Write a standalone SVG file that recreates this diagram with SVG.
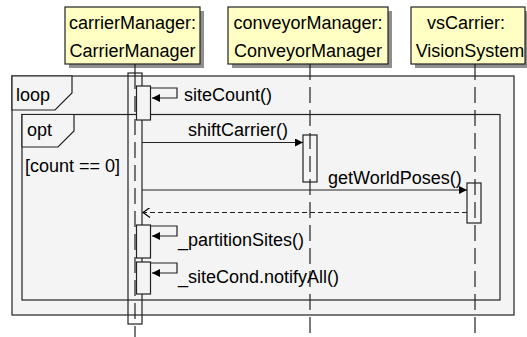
<svg xmlns="http://www.w3.org/2000/svg" width="527" height="337" viewBox="0 0 527 337">
  <style>
    text { font-family: "Liberation Sans", Arial, sans-serif; font-size: 18px; fill: #000; }
    .frame { fill: #f4f4f4; stroke: #222; stroke-width: 1.2; }
    .tab { fill: #f4f4f4; stroke: #222; stroke-width: 1.2; }
    .head { fill: #ffffc4; stroke: #222; stroke-width: 1.2; }
    .shadow { fill: #8f8f8f; }
    .life { stroke: #222; stroke-width: 1.2; stroke-dasharray: 16 7; fill: none; }
    .act { fill: none; stroke: #222; stroke-width: 1.2; }
    .actf { fill: #f4f4f4; stroke: #222; stroke-width: 1.2; }
    .msg { stroke: #222; stroke-width: 1.2; fill: none; }
    .ret { stroke: #222; stroke-width: 1.2; fill: none; stroke-dasharray: 5 3; }
  </style>
  <defs>
    <marker id="filled" markerWidth="9" markerHeight="8" refX="8" refY="4" orient="auto" markerUnits="userSpaceOnUse">
      <path d="M0,0 L8,4 L0,8 Z" fill="#000"/>
    </marker>
    <marker id="open" markerWidth="10" markerHeight="10" refX="8" refY="5" orient="auto" markerUnits="userSpaceOnUse">
      <path d="M1,0 L8,5 L1,10" fill="none" stroke="#000" stroke-width="1.2"/>
    </marker>
  </defs>

  <!-- combined fragments -->
  <g id="loop">
    <rect class="frame" x="12" y="76" width="502" height="239"/>
    <path class="tab" d="M12,76 H72 V93 L55,110 H12 Z"/>
    <text x="16" y="101">loop</text>
  </g>
  <g id="opt">
    <rect class="frame" x="22" y="114.5" width="478" height="185.5"/>
    <path class="tab" d="M22,114.5 H74 V131 L58,147 H22 Z"/>
    <text x="27" y="136">opt</text>
    <text x="25" y="172">[count == 0]</text>
  </g>

  <!-- lifeline heads -->
  <g id="carrierManager">
    <rect class="shadow" x="69" y="11" width="135" height="57"/>
    <rect class="head" x="65" y="7" width="135" height="57"/>
    <text x="132.5" y="29" text-anchor="middle">carrierManager:</text>
    <text x="132.5" y="57" text-anchor="middle">CarrierManager</text>
  </g>
  <g id="conveyorManager">
    <rect class="shadow" x="232" y="11" width="160" height="57"/>
    <rect class="head" x="228" y="7" width="160" height="57"/>
    <text x="308" y="29" text-anchor="middle">conveyorManager:</text>
    <text x="308" y="57" text-anchor="middle">ConveyorManager</text>
  </g>
  <g id="vsCarrier">
    <rect class="shadow" x="415" y="11" width="114" height="57"/>
    <rect class="head" x="411" y="7" width="114" height="57"/>
    <text x="466" y="29" text-anchor="middle">vsCarrier:</text>
    <text x="470" y="57" text-anchor="middle">VisionSystem</text>
  </g>

  <!-- activations -->
  <g id="activations">
    <rect class="act" x="128" y="73" width="14" height="251"/>
    <rect class="actf" x="136.5" y="86" width="14" height="34"/>
    <rect class="actf" x="136.5" y="225" width="14" height="33"/>
    <rect class="actf" x="136.5" y="262" width="14" height="32"/>
    <rect class="act" x="303" y="135" width="14" height="47"/>
    <rect class="act" x="467" y="183" width="14" height="40"/>
  </g>

  <!-- lifelines -->
  <g id="lifelines">
    <line x1="135" y1="64" x2="135" y2="73" stroke="#222" stroke-width="1.2"/>
    <line class="life" x1="135" y1="73" x2="135" y2="337"/>
    <line class="life" x1="310" y1="64" x2="310" y2="337"/>
    <line class="life" x1="475" y1="64" x2="475" y2="337"/>
  </g>

  <!-- messages -->
  <g id="connectors">
    <path class="msg" d="M150.5,88 H177 V98 H152" marker-end="url(#filled)"/>
    <text x="184" y="101">siteCount()</text>

    <line class="msg" x1="142" y1="142.5" x2="303" y2="142.5" marker-end="url(#filled)"/>
    <text x="188" y="136">shiftCarrier()</text>

    <line class="msg" x1="142" y1="190" x2="467" y2="190" marker-end="url(#filled)"/>
    <text x="328" y="184">getWorldPoses()</text>

    <line class="ret" x1="467" y1="212.5" x2="143" y2="212.5" marker-end="url(#open)"/>

    <path class="msg" d="M150.5,226 H177 V236 H152" marker-end="url(#filled)"/>
    <text x="178" y="246">_partitionSites()</text>

    <path class="msg" d="M150.5,263 H177 V273 H152" marker-end="url(#filled)"/>
    <text x="178" y="283">_siteCond.notifyAll()</text>
  </g>
</svg>
